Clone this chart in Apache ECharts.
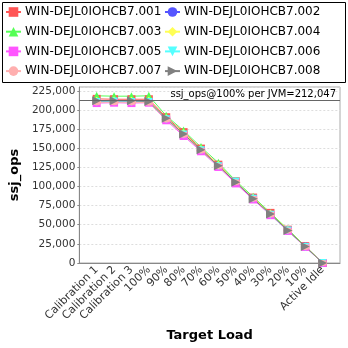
<!DOCTYPE html>
<html><head><meta charset="utf-8">
<script src="https://cdn.jsdelivr.net/npm/echarts@6/dist/echarts.min.js"></script>
<style>html,body{margin:0;padding:0;background:#fff}#c{width:348px;height:348px}</style>
</head><body><div id="c"></div>
<script>
const categories = ['Calibration 1','Calibration 2','Calibration 3','100%','90%','80%','70%','60%','50%','40%','30%','20%','10%','Active Idle'];
const yTicks = [0,25000,50000,75000,100000,125000,150000,175000,200000,225000];
const refValue = 212047;
const s001 = [214500,214000,214000,214000,190500,171000,149500,128500,107000,85500,65500,43500,22000,0];
const s002 = [211000,211500,211000,211500,188500,168000,147500,127000,106000,84500,63500,42500,21500,0];
const s003 = [218500,218000,218000,218500,192500,173000,151500,131000,107500,86500,65500,44000,22000,0];
const s004 = [212000,212500,212000,212000,189000,169500,148500,128000,106500,85000,64500,43000,21500,0];
const s005 = [209000,209500,209000,209500,186500,166000,146000,125500,104000,83000,62500,42000,21000,0];
const s006 = [210500,211000,210500,210400,188000,168000,147500,126500,106500,84000,63000,42500,21000,0];
const s007 = [210000,210000,210000,209500,187500,167500,147000,126500,105500,84000,63500,42500,21000,0];
const s008 = [212000,212000,212000,211000,189000,168500,148000,127000,105500,84000,64000,42500,21500,0];
const names = ['WIN-DEJL0IOHCB7.001','WIN-DEJL0IOHCB7.002','WIN-DEJL0IOHCB7.003','WIN-DEJL0IOHCB7.004','WIN-DEJL0IOHCB7.005','WIN-DEJL0IOHCB7.006','WIN-DEJL0IOHCB7.007','WIN-DEJL0IOHCB7.008'];
const values = [s001,s002,s003,s004,s005,s006,s007,s008];
const colors = ['#ff5555','#5555ff','#55ff55','#ffff55','#ff55ff','#55ffff','#ffafaf','#808080'];
const symbols = ['rect','circle','triangle','diamond','rect','path://M0,0 L10,0 L5,10 Z','circle','path://M0,0 L10,5 L0,10 Z'];

const cats = [''].concat(categories, ['']);
const font = 'DejaVu Sans';
const series = names.map((n,i)=>({
  name:n, type:'line', data:[null].concat(values[i],[null]),
  itemStyle:{color:colors[i]}, lineStyle:{color:colors[i],width:1},
  symbol:symbols[i], symbolSize: i===6?[9,6]:(i===7?9:8), showSymbol:true, animation:false,
  z: 2
}));
series.push({
  type:'line', data:[], silent:true, animation:false,
  markLine:{silent:true, symbol:'none', animation:false,
    lineStyle:{color:'#666',type:'solid',width:1},
    label:{position:'insideEndTop', formatter:'ssj_ops@100% per JVM=212,047', color:'#000', fontFamily:font, fontSize:10, distance:[4,1]},
    data:[{yAxis:refValue}]}
});
const legendCommon = {orient:'vertical', itemWidth:15, itemHeight:12, itemGap:7.7, padding:0,
  textStyle:{fontFamily:font, fontSize:12, color:'#000', padding:[0,0,0,-1]}, top:6};
const chart = echarts.init(document.getElementById('c'), null, {renderer:'canvas'});
chart.setOption({
  backgroundColor:'#fff',
  animation:false,
  color: colors,
  legend:[
    Object.assign({}, legendCommon, {left:5, data:[names[0],names[2],names[4],names[6]]}),
    Object.assign({}, legendCommon, {left:164, data:[names[1],names[3],names[5],names[7]]})
  ],
  graphic:[{type:'rect', shape:{x:2.5,y:2.5,width:343,height:80}, style:{fill:'none',stroke:'#000',lineWidth:1}, silent:true}],
  grid:{left:74, right:8, top:87, bottom:85, show:true, borderColor:'#aaa', borderWidth:1, backgroundColor:'#fff'},
  xAxis:{type:'category', data:cats, boundaryGap:false,
    axisLine:{lineStyle:{color:'#888'}}, axisTick:{show:false},
    axisLabel:{rotate:45, interval:0, fontFamily:font, fontSize:11, color:'#333', margin:5},
    splitLine:{show:false},
    name:'Target Load', nameLocation:'middle', nameGap:60,
    nameTextStyle:{fontFamily:font, fontSize:13, fontWeight:'bold', color:'#000'}},
  yAxis:{type:'value', min:0, max:230000, interval:25000,
    axisLine:{show:true, lineStyle:{color:'#888'}}, axisTick:{show:true, length:2, lineStyle:{color:'#888'}},
    axisLabel:{fontFamily:font, fontSize:10.5, color:'#333', margin:4, showMaxLabel:false,
      formatter:v=> yTicks.indexOf(v)>=0 ? v.toLocaleString('en-US') : ''},
    splitLine:{show:true, lineStyle:{color:'#ddd', type:[2,2]}},
    name:'ssj_ops', nameLocation:'middle', nameGap:48,
    nameTextStyle:{fontFamily:font, fontSize:13, fontWeight:'bold', color:'#000'}},
  series: series
});
</script></body></html>
